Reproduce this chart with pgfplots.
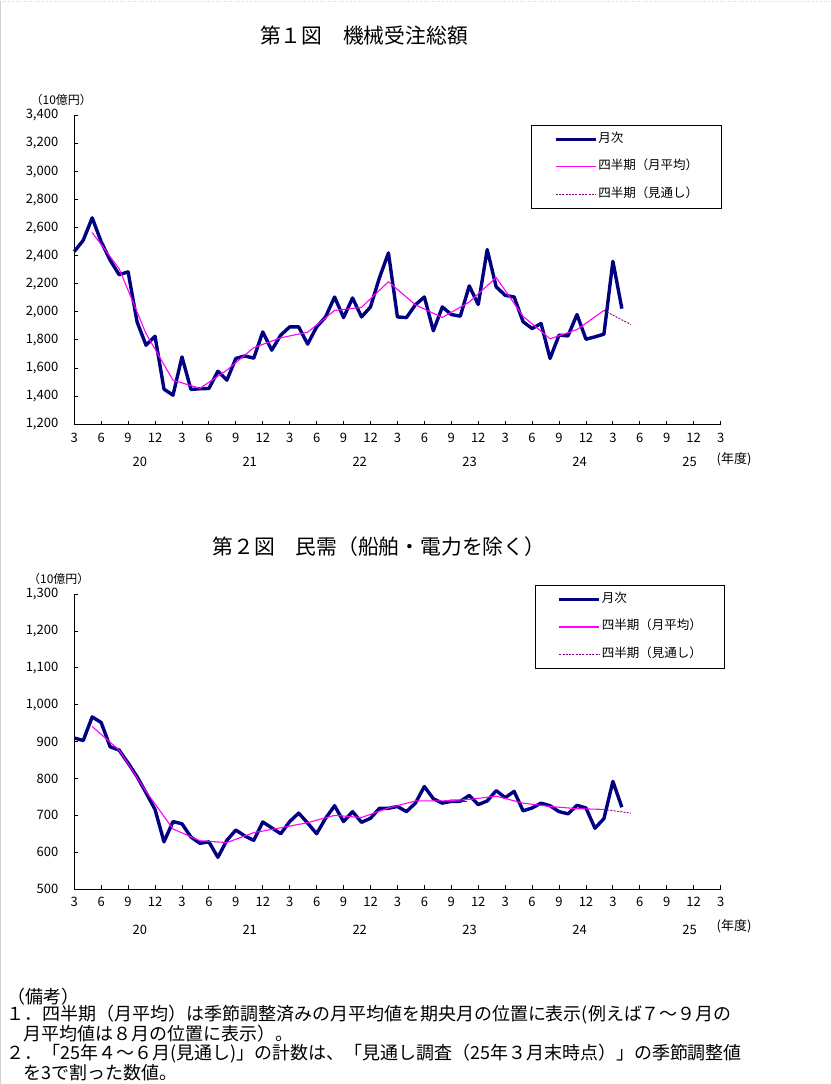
\documentclass[border=0pt]{standalone}
\usepackage{fontspec}
\setmainfont{Noto Sans CJK JP}
\usepackage{pgfplots}
\pgfplotsset{compat=1.18}
\definecolor{navyline}{RGB}{0,0,128}
\definecolor{magline}{RGB}{255,0,255}
\definecolor{purpline}{RGB}{128,0,128}
\pgfplotsset{
  mychart/.style={
    width=647pt, scale only axis, xmin=0, xmax=72,
    axis x line*=bottom, axis y line*=left,
    axis line style={-, line width=0.9pt, black},
    tick align=inside, major tick length=3.5pt,
    tick style={black, line width=0.9pt},
    xtick={0,3,...,72},
    xticklabels={3,6,9,12,3,6,9,12,3,6,9,12,3,6,9,12,3,6,9,12,3,6,9,12,3},
    ticklabel style={font=\fontsize{13}{13}\selectfont},
    xticklabel style={yshift=-5pt},
    yticklabel style={xshift=-12.5pt},
    /pgf/number format/assume math mode=true,
    /pgf/number format/1000 sep={,},
    clip=false,
    legend cell align=left,
    legend image code/.code={\draw[##1] (0pt,0pt) -- (40pt,0pt);},
    legend style={draw=black, line width=0.9pt, fill=white, inner xsep=22pt, inner ysep=7pt, row sep=13.3pt,
      font=\fontsize{12.5}{12.5}\selectfont,
      nodes={inner sep=1pt, text height=9pt, text depth=3pt},
      /tikz/every even column/.append style={column sep=1pt}},
  },
  monthly/.style={color=navyline, draw=navyline, line width=3.4pt, line join=round},
  quarter/.style={color=magline, draw=magline, line width=1.1pt, line join=round},
  outlook/.style={color=purpline, draw=purpline, line width=0.9pt, dash pattern=on 2pt off 1.3pt},
}
\pgfplotstableread{
i v
0 2430
1 2510
2 2670
3 2500
4 2368
5 2265
6 2285
7 1929
8 1762
9 1826
10 1449
11 1406
12 1679
13 1447
14 1452
15 1454
16 1577
17 1513
18 1668
19 1686
20 1670
21 1857
22 1727
23 1834
24 1893
25 1893
26 1770
27 1893
28 1964
29 2106
30 1959
31 2099
32 1964
33 2035
34 2244
35 2420
36 1964
37 1959
38 2050
39 2106
40 1865
41 2035
42 1981
43 1969
44 2185
45 2052
46 2444
47 2178
48 2118
49 2106
50 1929
51 1881
52 1917
53 1668
54 1834
55 1829
56 1981
57 1805
58 1822
59 1841
60 2360
61 2023
}\monthA
\pgfplotstableread{
i v
2 2565
5 2308
8 1845
11 1513
14 1455
17 1585
20 1745
23 1815
26 1855
29 2010
32 2032
35 2215
38 2050
41 1960
44 2070
47 2245
50 1968
53 1808
56 1874
59 2010
}\quartA
\pgfplotstableread{
i v
0 910
1 903
2 967
3 952
4 886
5 877
6 842
7 805
8 761
9 716
10 628
11 683
12 677
13 641
14 624
15 628
16 586
17 632
18 660
19 644
20 632
21 682
22 666
23 650
24 683
25 706
26 679
27 650
28 692
29 726
30 683
31 710
32 681
33 692
34 719
35 719
36 724
37 710
38 733
39 778
40 745
41 733
42 738
43 738
44 754
45 729
46 739
47 767
48 748
49 765
50 712
51 720
52 733
53 726
54 710
55 704
56 727
57 720
58 665
59 691
60 792
61 722
}\monthB
\pgfplotstableread{
i v
2 941
5 877
8 765
11 663
14 631
17 626
20 653
23 666
26 680
29 700
32 694
35 720
38 739
41 739
44 743
47 752
50 733
53 724
56 718
59 716
}\quartB
\begin{document}
\begin{tikzpicture}
\fill[white] (0pt,0pt) rectangle (831pt,-1084pt);
\draw[gray!35, line width=1pt] (0.5pt,0pt) -- (0.5pt,-1084pt);
\draw[gray!35, line width=0.6pt, dotted] (0pt,-0.4pt) -- (831pt,-0.4pt);
% titles
\node[font=\fontsize{20.8}{20.8}\selectfont] at (364pt,-35pt) {第１図　機械受注総額};
\node[font=\fontsize{20.8}{20.8}\selectfont] at (379pt,-547pt) {第２図　民需（船舶・電力を除く）};
\node[font=\fontsize{12}{12}\selectfont] at (61pt,-100pt) {（10億円）};
\node[font=\fontsize{12}{12}\selectfont] at (58.5pt,-579pt) {（10億円）};
% chart 1
\begin{axis}[mychart, at={(74pt,-424pt)}, anchor=south west, height=309pt,
  ymin=1200, ymax=3400, ytick={1200,1400,...,3400},
  legend style={at={(axis description cs:0.7074,0.9683)}, anchor=north west}]
\addplot[monthly] table[x=i,y=v] {\monthA};
\addlegendentry{月次}
\addplot[quarter] table[x=i,y=v] {\quartA};
\addlegendentry{四半期（月平均）}
\addplot[outlook] coordinates {(59,2010) (62,1910)};
\addlegendentry{四半期（見通し）\hspace{6pt}}
\foreach \k/\lab in {0/20,1/21,2/22,3/23,4/24,5/25}{
  \edef\tmp{\noexpand\node[font=\noexpand\fontsize{13}{13}\noexpand\selectfont] at (axis cs:{7.3+12.25*\k},1200) [yshift=-38pt] {\lab};}
  \tmp
}
\node[font=\fontsize{13}{13}\selectfont] at (axis cs:73.5,1200) [yshift=-35pt] {(年度)};
\end{axis}
% chart 2
\begin{axis}[mychart, at={(74pt,-889.3pt)}, anchor=south west, height=295pt,
  ymin=500, ymax=1300, ytick={500,600,...,1300},
  legend style={at={(axis description cs:0.713,1.0305)}, anchor=north west}]
\addplot[monthly] table[x=i,y=v] {\monthB};
\addlegendentry{月次}
\addplot[quarter] table[x=i,y=v] {\quartB};
\addlegendentry{四半期（月平均）}
\addplot[outlook] coordinates {(59,716) (62,706)};
\addlegendentry{四半期（見通し）\hspace{6pt}}
\addplot[purpline, line width=1pt, forget plot] coordinates {(41,738) (43.8,738)};
\foreach \k/\lab in {0/20,1/21,2/22,3/23,4/24,5/25}{
  \edef\tmp{\noexpand\node[font=\noexpand\fontsize{13}{13}\noexpand\selectfont] at (axis cs:{7.3+12.25*\k},500) [yshift=-41pt] {\lab};}
  \tmp
}
\node[font=\fontsize{13}{13}\selectfont] at (axis cs:73.5,500) [yshift=-37pt] {(年度)};
\end{axis}
% notes
\begin{scope}[every node/.style={anchor=west, inner sep=0pt, font=\fontsize{18}{18}\selectfont}]
\node at (7pt,-997pt) {（備考）};
\node at (6pt,-1015pt) {１．四半期（月平均）は季節調整済みの月平均値を期央月の位置に表示(例えば７～９月の};
\node at (23pt,-1034pt) {月平均値は８月の位置に表示）。};
\node at (6pt,-1054pt) {２．「25年４～６月(見通し)」の計数は、「見通し調査（25年３月末時点）」の季節調整値};
\node at (23pt,-1073pt) {を3で割った数値。};
\end{scope}
\end{tikzpicture}
\end{document}
